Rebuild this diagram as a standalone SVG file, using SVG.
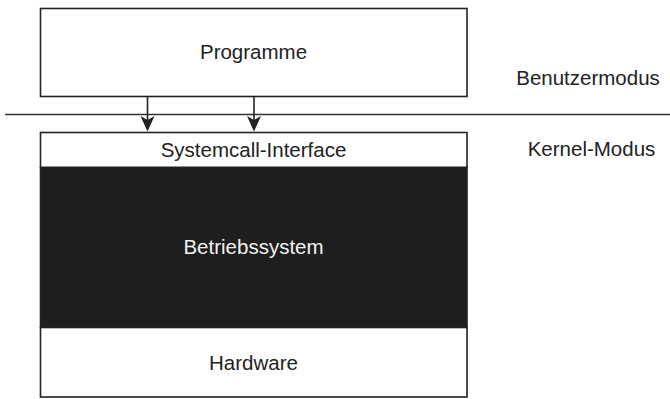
<svg xmlns="http://www.w3.org/2000/svg" width="670" height="399" viewBox="0 0 670 399">
  <defs>
    <style>
      .box { fill: #ffffff; stroke: #222222; stroke-width: 1.6; }
      .os { fill: #1e1e1e; stroke: #222222; stroke-width: 1.6; }
      .lbl { font-family: "Liberation Sans", Arial, sans-serif; font-size: 20.5px; fill: #222222; text-anchor: middle; }
      .lbl-inv { fill: #f2f2f2; }
      .edge { stroke: #222222; stroke-width: 1.6; fill: none; }
      .head { fill: #222222; }
    </style>
  </defs>

  <rect width="670" height="399" fill="#ffffff"/>

  <!-- user/kernel boundary -->
  <line x1="5" y1="114.5" x2="670" y2="114.5" stroke="#333333" stroke-width="1.4"/>

  <g id="programme">
    <rect class="box" x="40.5" y="8.5" width="426.5" height="88"/>
    <text class="lbl" x="253.5" y="58.5">Programme</text>
  </g>

  <g id="syscall-interface">
    <rect class="box" x="40.5" y="132.5" width="426.5" height="35"/>
    <text class="lbl" x="253.5" y="157">Systemcall-Interface</text>
  </g>

  <g id="betriebssystem">
    <rect class="os" x="40.5" y="167.5" width="426.5" height="160"/>
    <text class="lbl lbl-inv" x="253.5" y="253.5">Betriebssystem</text>
  </g>

  <g id="hardware">
    <rect class="box" x="40.5" y="327.5" width="426.5" height="69.5"/>
    <text class="lbl" x="253.5" y="370">Hardware</text>
  </g>

  <g id="mode-labels">
    <text class="lbl" x="588" y="85">Benutzermodus</text>
    <text class="lbl" x="591.5" y="156">Kernel-Modus</text>
  </g>

  <g id="connectors">
    <path d="M147.5,97 L147.5,128" class="edge"/>
    <path class="head" d="M140.5,116 L147.5,120 L154.5,116 L147.5,131.5 Z"/>
    <path d="M254,97 L254,128" class="edge"/>
    <path class="head" d="M247,116 L254,120 L261,116 L254,131.5 Z"/>
  </g>
</svg>
